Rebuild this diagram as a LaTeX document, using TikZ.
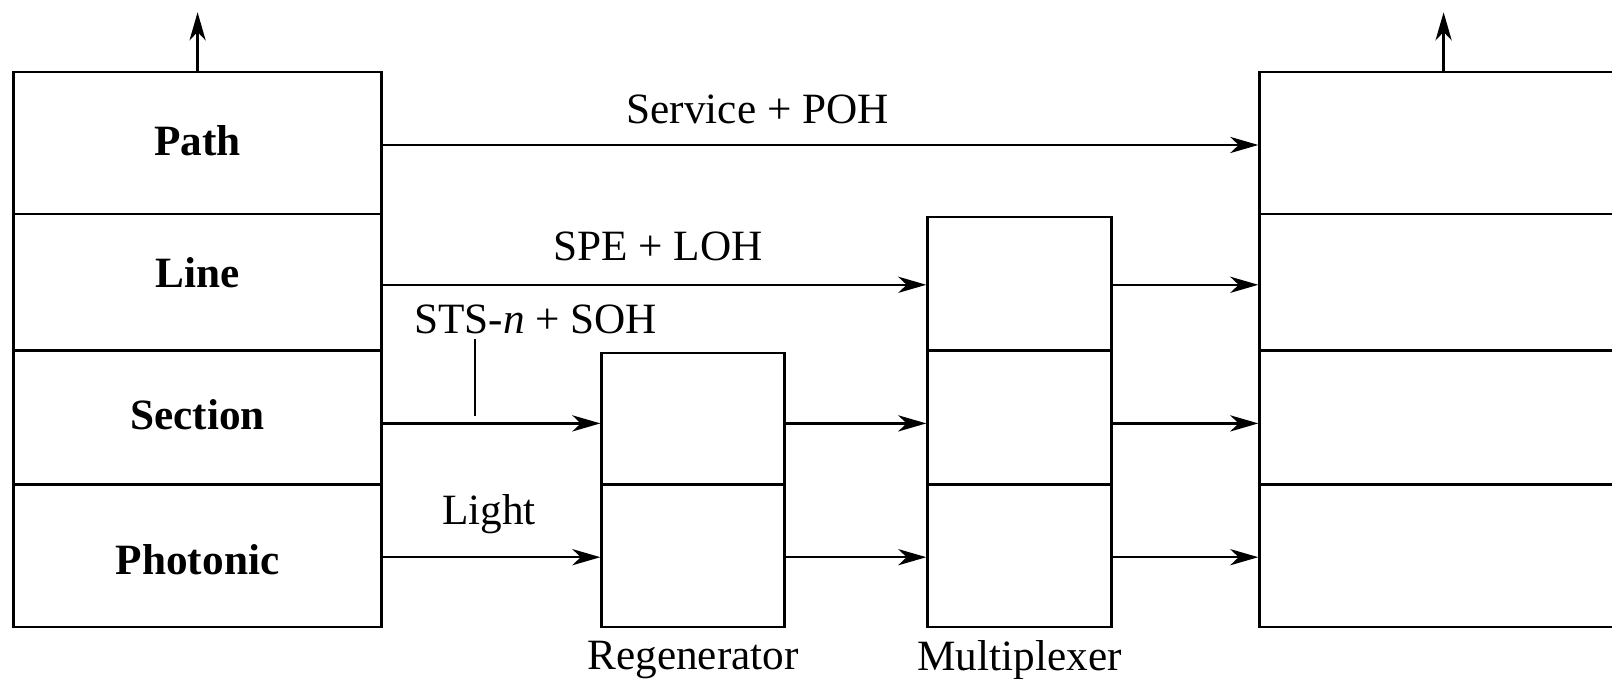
\documentclass[tikz,border=0pt]{standalone}
\usepackage{fontspec}
\setmainfont{Liberation Serif}
\usetikzlibrary{arrows.meta,positioning,calc}

\begin{document}
\begin{tikzpicture}[
  font=\fontsize{12.3}{14}\selectfont,
  >={Stealth[length=8pt,width=4.6pt,inset=2.4pt]},
  cell/.style = {draw, line width=0.7pt, inner sep=0pt, anchor=north west},
  lyr/.style  = {font=\fontsize{12.3}{14}\selectfont\bfseries, inner sep=0pt},
  lbl/.style  = {inner sep=0pt},
  arr/.style  = {line width=0.7pt, ->},
]

\useasboundingbox (0,0) rectangle (16.12,6.79);
\clip (0,0) rectangle (16.12,6.79);

\def\wB{3.681}
\def\xL{0.123} \def\xG{6.004} \def\xM{9.263} \def\xR{12.583}
\def\yT{6.081} \def\yA{4.662} \def\yB{3.295} \def\yC{1.958}

% terminal equipment (left)
\node[cell,minimum width=\wB cm,minimum height=1.419cm] (path) at (\xL,\yT) {};
\node[cell,minimum width=\wB cm,minimum height=1.367cm] (line) at (\xL,\yA) {};
\node[cell,minimum width=\wB cm,minimum height=1.337cm] (sect) at (\xL,\yB) {};
\node[cell,minimum width=\wB cm,minimum height=1.428cm] (phot) at (\xL,\yC) {};

\node[lyr] (pathlbl) at ([yshift=0.02cm]path.center)  {Path};
\node[lyr] (linelbl) at ([yshift=0.10cm]line.center)  {Line};
\node[lyr] (sectlbl) at ([yshift=0.03cm]sect.center)  {Section};
\node[lyr] (photlbl) at ([yshift=-0.04cm]phot.center) {Photonic};

% regenerator
\node[cell,minimum width=1.83cm,minimum height=1.312cm] (gsect) at (\xG,3.27) {};
\node[cell,minimum width=1.83cm,minimum height=1.428cm] (gphot) at (\xG,\yC) {};

% multiplexer
\node[cell,minimum width=1.84cm,minimum height=1.336cm] (mline) at (\xM,4.631) {};
\node[cell,minimum width=1.84cm,minimum height=1.337cm] (msect) at (\xM,\yB) {};
\node[cell,minimum width=1.84cm,minimum height=1.428cm] (mphot) at (\xM,\yC) {};

% terminal equipment (right)
\node[cell,minimum width=\wB cm,minimum height=1.419cm] (rpath) at (\xR,\yT) {};
\node[cell,minimum width=\wB cm,minimum height=1.367cm] (rline) at (\xR,\yA) {};
\node[cell,minimum width=\wB cm,minimum height=1.337cm] (rsect) at (\xR,\yB) {};
\node[cell,minimum width=\wB cm,minimum height=1.428cm] (rphot) at (\xR,\yC) {};

% to upper layers
\coordinate (lout) at ($(path.north)+(0,0.586)$);
\coordinate (rout) at ($(rpath.north)+(0,0.586)$);
\draw[arr] (path.north) -- (lout);
\draw[arr] (rpath.north) -- (rout);

% flows
\def\yP{5.34} \def\yL{3.942} \def\yS{2.556} \def\yF{1.218}
\draw[arr] (path.east |- 0,\yP) -- (rpath.west |- 0,\yP);
\draw[arr] (line.east |- 0,\yL) -- (mline.west |- 0,\yL);
\draw[arr] (mline.east |- 0,\yL) -- (rline.west |- 0,\yL);
\draw[arr] (sect.east |- 0,\yS) -- (gsect.west |- 0,\yS);
\draw[arr] (gsect.east |- 0,\yS) -- (msect.west |- 0,\yS);
\draw[arr] (msect.east |- 0,\yS) -- (rsect.west |- 0,\yS);
\draw[arr] (phot.east |- 0,\yF) -- (gphot.west |- 0,\yF);
\draw[arr] (gphot.east |- 0,\yF) -- (mphot.west |- 0,\yF);
\draw[arr] (mphot.east |- 0,\yF) -- (rphot.west |- 0,\yF);

% labels
\node[lbl] (svc)   at (7.577,5.70)  {Service + POH};
\node[lbl] (spe)   at (6.58,4.323)  {SPE + LOH};
\node[lbl] (sts)   at (5.356,3.593) {STS-\textit{n} + SOH};
\node[lbl] (light) at (4.89,1.65)   {Light};
\node[lbl] (regen) at (gphot.south |- 0,0.185) {Regenerator};
\node[lbl] (mux)   at (mphot.south |- 0,0.185) {Multiplexer};

\coordinate (tktop) at (4.75,3.40);
\coordinate (tkbot) at (4.75,2.63);
\draw[line width=0.7pt] (tktop) -- (tkbot);

\end{tikzpicture}
\end{document}
